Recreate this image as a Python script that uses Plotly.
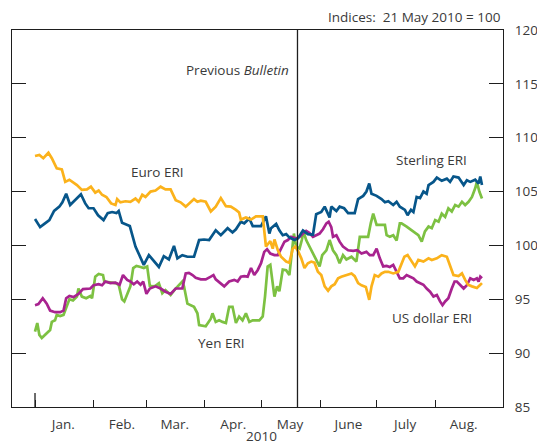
import pandas as pd
import plotly.graph_objects as go

# ---------------- data (days since 1 Jan 2010, index values) ----------------
sterling_days = [0, 2.7, 5.3, 7.6, 10.1, 12.9, 14.5, 16.5, 18.6, 21.3,
                 24.3, 26.6, 28.4, 31.0, 33.4, 36.3, 38.5, 40.8, 43.1, 44.3,
                 46.1, 50.2, 53.2, 57.6, 60.3, 65.6, 68.2, 70.9, 73.6, 75.4,
                 78.0, 80.7, 84.2, 86.9, 89.5, 92.2, 95.7, 98.4, 102.0, 104.6,
                 106.4, 109.0, 110.8, 113.5, 115.3, 119.7, 122.3, 124.1, 125.0, 127.7,
                 129.4, 131.2, 133.0, 134.7, 137.4, 139.2, 141.9, 144.5, 147.2, 148.9,
                 151.6, 153.4, 156.0, 156.9, 159.6, 161.3, 163.7, 165.8, 169.3, 171.1,
                 173.8, 175.5, 177.0, 178.2, 180.9, 183.5, 185.3, 187.1, 189.7, 191.5,
                 193.2, 195.9, 197.3, 199.1, 200.4, 202.1, 203.9, 205.7, 207.4, 208.4,
                 211.0, 212.8, 215.4, 218.1, 219.8, 221.6, 224.3, 227.0, 228.7, 230.5,
                 233.1, 234.9, 235.8, 236.7]
sterling_vals = [102.45, 101.7, 102.05, 102.35, 103.2, 103.6, 104.0, 104.8, 103.75, 104.2,
                 104.75, 103.9, 103.45, 103.45, 102.8, 102.35, 103.0, 103.1, 103.0, 103.2,
                 102.1, 101.8, 99.9, 98.2, 99.1, 98.0, 99.0, 98.7, 99.95, 98.8,
                 99.1, 98.95, 98.95, 100.5, 100.55, 100.5, 101.4, 100.95, 101.6, 101.2,
                 101.5, 102.2, 102.05, 102.5, 101.8, 101.8, 102.7, 101.1, 101.6, 102.0,
                 101.4, 100.95, 101.05, 100.75, 100.5, 100.65, 101.4, 101.05, 101.0, 102.9,
                 103.1, 103.6, 102.6, 103.6, 103.2, 103.6, 103.45, 103.0, 103.0, 104.3,
                 104.6, 105.0, 105.75, 104.8, 104.6, 104.3, 104.0, 104.1, 103.75, 104.05,
                 103.6, 103.3, 102.8, 103.3, 103.1, 104.5, 104.4, 105.0, 104.8, 105.6,
                 105.9, 106.3, 106.0, 106.2, 105.9, 106.4, 106.3, 105.6, 106.05, 105.9,
                 106.1, 105.75, 106.4, 105.6]

euro_days = [0, 2.3, 4.4, 7.1, 8.9, 11.5, 14.2, 16.0, 18.2, 20.1,
             22.2, 24.8, 27.5, 29.6, 31.9, 33.7, 35.5, 37.8, 40.3, 42.6,
             43.5, 45.2, 47.9, 50.5, 53.2, 54.9, 56.8, 58.5, 60.3, 61.2,
             63.8, 66.5, 69.1, 71.8, 74.5, 77.1, 79.8, 81.5, 84.2, 86.0,
             87.8, 90.4, 93.1, 95.7, 98.4, 101.1, 103.7, 106.4, 108.1, 109.0,
             111.7, 114.4, 117.0, 120.6, 122.3, 124.6, 125.9, 126.8, 128.6, 130.3,
             133.0, 134.7, 136.5, 137.8, 139.5, 141.0, 142.7, 144.5, 146.3, 148.0,
             149.8, 151.6, 153.4, 155.2, 156.9, 158.7, 160.5, 162.2, 164.9, 167.6,
             169.3, 171.1, 172.9, 175.2, 177.0, 178.2, 179.9, 181.8, 183.5, 185.3,
             187.1, 189.7, 192.4, 194.1, 195.6, 197.3, 199.5, 201.2, 203.0, 205.7,
             208.4, 210.1, 212.8, 215.4, 218.1, 219.8, 221.6, 224.3, 226.1, 227.8,
             229.3, 231.4, 234.0, 235.8, 236.7]
euro_vals = [108.3, 108.4, 108.1, 108.6, 108.1, 107.15, 107.05, 105.9, 106.1, 105.9,
             105.6, 105.15, 105.2, 105.45, 104.9, 105.1, 104.7, 104.5, 103.9, 103.75,
             104.3, 104.0, 104.1, 104.05, 104.35, 104.05, 104.7, 104.5, 104.9, 105.0,
             105.1, 105.45, 105.2, 105.2, 104.2, 104.0, 103.6, 103.9, 104.3, 104.05,
             104.15, 104.05, 103.15, 103.6, 104.4, 103.65, 103.6, 103.3, 103.05, 102.4,
             102.6, 102.4, 102.7, 102.7, 99.9, 100.4, 99.7, 100.55, 99.55, 98.95,
             98.5, 98.4, 99.7, 99.9, 99.4, 98.8, 97.9, 98.35, 98.5, 98.4,
             97.55, 97.25, 96.2, 95.8, 96.2, 96.4, 96.95, 97.1, 97.25, 97.4,
             97.15, 96.5, 96.3, 96.15, 94.95, 96.2, 97.25, 97.1, 97.4, 97.55,
             97.55, 97.4, 97.55, 98.35, 98.95, 99.1, 98.5, 98.05, 98.65, 98.5,
             98.8, 98.65, 98.8, 99.1, 98.95, 98.05, 97.25, 97.15, 97.4, 96.8,
             96.35, 96.2, 96.05, 96.35, 96.5]

yen_days = [0, 1.2, 2.3, 3.6, 6.2, 8.0, 8.9, 10.6, 11.5, 13.3,
            15.1, 16.5, 18.2, 20.1, 22.2, 23.0, 24.8, 27.1, 29.3, 30.2,
            31.9, 33.7, 36.0, 36.7, 39.9, 42.6, 44.3, 46.1, 47.3, 48.8,
            50.5, 52.0, 53.7, 55.9, 57.6, 59.4, 60.8, 62.6, 63.8, 65.6,
            67.4, 69.1, 71.8, 74.5, 76.2, 78.0, 78.9, 80.7, 84.2, 86.0,
            86.9, 90.4, 93.1, 94.0, 95.7, 97.5, 99.3, 101.1, 102.8, 104.6,
            106.4, 108.1, 109.9, 111.7, 113.5, 115.3, 118.8, 120.6, 121.8, 123.2,
            124.6, 125.9, 126.8, 128.2, 129.4, 131.2, 133.0, 134.7, 136.0, 137.1,
            138.3, 140.1, 141.3, 142.2, 143.6, 145.4, 147.2, 148.9, 150.7, 152.1,
            154.3, 156.0, 157.8, 159.6, 161.3, 163.1, 164.9, 167.6, 170.2, 172.0,
            173.8, 176.4, 177.8, 179.1, 180.9, 183.5, 185.3, 186.2, 187.9, 189.7,
            191.5, 193.2, 194.1, 196.8, 200.4, 203.0, 204.8, 206.5, 208.4, 210.1,
            211.9, 213.7, 215.4, 217.2, 218.9, 220.7, 222.5, 224.3, 226.1, 227.8,
            229.6, 231.4, 233.1, 234.0, 235.3, 236.7]
yen_vals = [92.0, 92.8, 91.7, 91.4, 91.85, 92.15, 92.9, 93.05, 93.55, 93.45,
            93.55, 94.15, 95.0, 94.9, 95.25, 96.0, 95.25, 95.1, 95.3, 95.1,
            97.1, 97.35, 97.25, 96.65, 96.55, 96.5, 96.35, 95.0, 94.8, 95.4,
            96.2, 97.9, 98.1, 98.0, 97.9, 98.05, 96.25, 96.2, 96.25, 96.5,
            95.55, 95.85, 95.4, 96.0, 96.3, 96.65, 96.2, 94.6, 94.3, 93.7,
            92.6, 92.5, 93.2, 93.7, 92.9, 93.05, 92.9, 92.8, 94.3, 94.3,
            92.8, 93.4, 93.05, 93.7, 92.9, 93.05, 93.05, 93.4, 95.25, 98.05,
            98.2, 96.6, 95.25, 96.2, 95.75, 97.75, 97.7, 97.25, 99.55, 101.1,
            99.9, 99.7, 100.5, 101.3, 100.5, 99.9, 99.25, 98.8, 98.05, 99.1,
            99.55, 100.5, 99.55, 99.1, 98.35, 99.1, 98.7, 98.95, 98.5, 100.8,
            100.8, 100.8, 102.05, 102.95, 101.9, 101.9, 101.9, 100.95, 100.8, 100.95,
            100.45, 102.05, 102.05, 101.75, 101.3, 100.95, 100.35, 101.3, 101.75, 101.6,
            102.35, 102.2, 102.95, 102.65, 103.45, 103.15, 103.75, 103.6, 104.05, 103.75,
            104.05, 104.5, 105.3, 105.9, 105.0, 104.35]

usd_days = [0, 1.8, 4.1, 6.2, 8.0, 10.6, 13.3, 15.1, 16.5, 18.2,
            20.4, 23.0, 25.4, 27.5, 29.3, 31.0, 33.7, 35.5, 37.2, 39.9,
            42.6, 44.8, 46.6, 48.8, 50.5, 52.3, 54.1, 55.9, 57.3, 59.0,
            60.8, 63.8, 66.5, 69.1, 71.8, 74.5, 78.0, 79.8, 81.5, 83.4,
            85.1, 87.8, 90.4, 93.1, 94.5, 95.7, 98.4, 100.2, 102.8, 105.5,
            107.3, 109.0, 110.8, 112.6, 114.4, 116.1, 117.9, 119.7, 121.4, 122.9,
            124.6, 126.8, 128.6, 130.3, 132.1, 133.9, 135.6, 138.3, 140.1, 141.9,
            143.6, 145.4, 147.2, 148.9, 150.7, 152.5, 154.3, 155.5, 156.9, 157.8,
            159.6, 161.3, 163.1, 165.8, 168.5, 170.7, 172.9, 175.5, 177.3, 179.1,
            180.9, 182.6, 184.4, 186.2, 187.9, 189.7, 191.5, 193.2, 195.0, 196.8,
            198.6, 200.4, 202.1, 203.9, 205.7, 207.4, 209.2, 211.0, 212.8, 214.5,
            215.8, 217.2, 218.9, 220.7, 222.2, 223.4, 225.2, 227.0, 228.7, 230.5,
            232.3, 234.0, 234.9, 235.8, 236.7]
usd_vals = [94.45, 94.55, 95.1, 94.6, 93.95, 93.8, 93.8, 93.95, 95.1, 95.3,
            95.2, 95.5, 95.95, 96.0, 96.0, 96.3, 96.4, 96.3, 96.65, 96.5,
            96.55, 96.35, 97.25, 96.8, 96.65, 96.4, 96.65, 96.35, 96.65, 95.5,
            96.0, 96.2, 96.0, 95.7, 95.5, 96.0, 96.0, 97.4, 97.45, 97.25,
            97.0, 96.85, 96.85, 97.1, 97.25, 96.85, 96.5, 96.2, 96.65, 96.8,
            96.65, 97.1, 97.15, 97.1, 97.9, 97.25, 97.7, 98.35, 99.4, 99.65,
            99.25, 99.1, 99.1, 99.7, 100.35, 100.5, 100.8, 100.65, 100.8, 101.1,
            101.35, 101.15, 100.8, 100.95, 101.1, 101.5, 102.05, 102.2, 101.7, 100.8,
            100.95, 100.35, 99.9, 99.55, 99.5, 99.55, 99.25, 99.4, 99.1, 99.1,
            99.7, 98.8, 98.05, 98.1, 98.0, 98.2, 97.55, 96.95, 96.95, 97.25,
            97.1, 96.95, 96.65, 96.5, 96.35, 96.0, 95.7, 95.25, 95.4, 94.8,
            94.45, 94.8, 95.1, 96.0, 96.65, 96.65, 96.35, 96.0, 96.3, 96.95,
            96.8, 96.95, 96.65, 97.1, 96.95]

month_labels = ["Jan.", "Feb.", "Mar.", "Apr.", "May", "June", "July", "Aug."]
month_label_dates = ["2010-01-16", "2010-02-16", "2010-03-16", "2010-04-16",
                     "2010-05-16", "2010-06-16", "2010-07-16", "2010-08-16"]
month_starts = ["2010-01-01", "2010-02-01", "2010-03-01", "2010-04-01",
                "2010-05-01", "2010-06-01", "2010-07-01", "2010-08-01"]
y_ticks = [85, 90, 95, 100, 105, 110, 115, 120]
previous_bulletin = "2010-05-20"

# ---------------- figure ----------------
BASE = pd.Timestamp("2010-01-01")


def to_dates(days):
    return BASE + pd.to_timedelta(days, unit="D")


FONT = "Open Sans"
FS = 13.5
TXT = "#3a3a3a"
AX = "#1e1e1e"

series = [
    (yen_days, yen_vals, "#7DC142"),
    (usd_days, usd_vals, "#A8238F"),
    (sterling_days, sterling_vals, "#07568A"),
    (euro_days, euro_vals, "#FBB21B"),
]

fig = go.Figure()
for d, v, c in series:
    fig.add_trace(go.Scatter(x=to_dates(d), y=v, mode="lines",
                             line=dict(color=c, width=2.7),
                             showlegend=False, hoverinfo="skip"))

fig.update_layout(
    width=537, height=444,
    margin=dict(l=12, r=34, t=30, b=37),
    paper_bgcolor="white", plot_bgcolor="white",
    font=dict(family=FONT, size=FS, color=TXT),
    xaxis=dict(
        type="date", automargin=False,
        range=["2009-12-19 19:30", "2010-09-05 20:00"],
        tickmode="array", tickvals=month_label_dates, ticktext=month_labels,
        ticks="", showgrid=False, zeroline=False,
        showline=True, linecolor=AX, linewidth=1.3, mirror=True,
        ticklabelstandoff=5,
        minor=dict(tickmode="array", tickvals=month_starts, ticks="inside",
                   ticklen=7, tickwidth=1.3, tickcolor=AX, showgrid=False),
        tickfont=dict(size=FS, color=TXT),
    ),
    yaxis=dict(
        side="right", automargin=False,
        range=[85, 120], tickmode="array", tickvals=y_ticks,
        ticks="inside", ticklen=14, tickwidth=1.3, tickcolor=AX,
        showline=True, linecolor=AX, linewidth=1.3, mirror="ticks",
        showgrid=False, zeroline=False, ticklabelstandoff=8,
        tickfont=dict(size=FS, color=TXT),
    ),
)

# Previous Bulletin vertical line and the taller year-start tick
fig.add_shape(type="line", xref="x", yref="paper",
              x0=previous_bulletin, x1=previous_bulletin, y0=0, y1=1,
              line=dict(color=AX, width=1.3))
fig.add_shape(type="line", xref="x", yref="y",
              x0=month_starts[0], x1=month_starts[0], y0=85, y1=86.3,
              line=dict(color=AX, width=1.3))

ann = [
    dict(x=previous_bulletin, y=116.3, text="Previous <i>Bulletin</i>",
         xanchor="right", xshift=-6),
    dict(x="2010-03-07", y=106.8, text="Euro ERI"),
    dict(x="2010-07-30", y=107.9, text="Sterling ERI"),
    dict(x="2010-04-10", y=90.95, text="Yen ERI"),
    dict(x="2010-07-30", y=93.25, text="US dollar ERI"),
]
for a in ann:
    fig.add_annotation(xref="x", yref="y", showarrow=False,
                       font=dict(family=FONT, size=FS, color=TXT), **a)

fig.add_annotation(xref="paper", yref="paper", x=1, y=1, yshift=13,
                   xanchor="right", yanchor="middle", showarrow=False,
                   text="Indices:  21 May 2010 = 100",
                   font=dict(family=FONT, size=FS, color=TXT))
fig.add_annotation(xref="x", yref="paper", x=month_starts[4], y=0, yshift=-29,
                   xanchor="center", yanchor="middle", showarrow=False,
                   text="2010", font=dict(family=FONT, size=FS, color=TXT))

fig.write_html("out.html", config={"displayModeBar": False},
               post_script="document.body.style.margin='0';")
